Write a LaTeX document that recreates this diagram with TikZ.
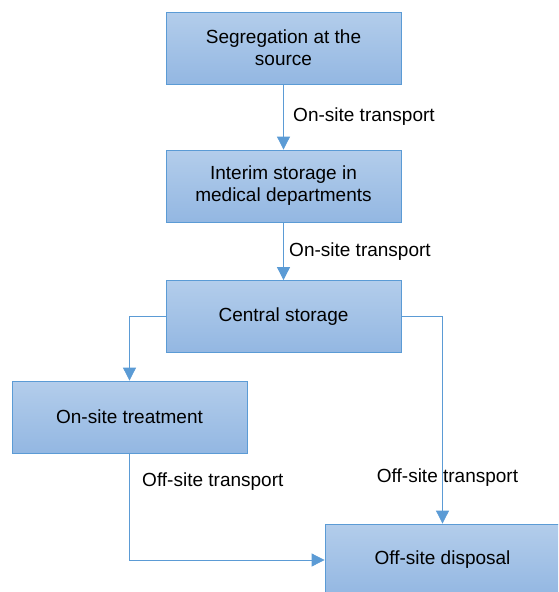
\documentclass[tikz,border=0pt]{standalone}
\usepackage{fontspec}
\setmainfont{Liberation Sans}
\usetikzlibrary{arrows.meta}
\definecolor{linkblue}{HTML}{5B9BD5}
\definecolor{boxtop}{HTML}{B3CDEB}
\definecolor{boxbot}{HTML}{93B7E2}
\begin{document}
\begin{tikzpicture}[x=1pt,y=-1pt,
	stage/.style={draw=linkblue,line width=0.8pt,top color=boxtop,bottom color=boxbot,
		minimum width=235pt,minimum height=72pt,align=center,font=\fontsize{19}{22}\selectfont},
	flow/.style={draw=linkblue,line width=0.8pt,-{Triangle[width=13pt,length=13pt]}},
	lbl/.style={font=\fontsize{19}{22}\selectfont}]
	\clip (0,0) rectangle (558,592);
	\useasboundingbox (0,0) rectangle (558,592);

	\node[stage] (seg) at (283.5,48) {Segregation at the\\source};
	\node[stage] (interim) at (283.5,186) {Interim storage in\\medical departments};
	\node[stage] (central) at (283.5,316.5) {Central storage};
	\node[stage] (treat) at (129.5,417) {On-site treatment};
	\node[stage] (disposal) at (442.5,560) {Off-site disposal};

	\draw[flow] (seg) -- node[lbl,right=6pt] {On-site transport} (interim);
	\draw[flow] (interim) -- node[lbl,right=2pt] {On-site transport} (central);
	\draw[flow] (central.west) -| (treat.north);
	\draw[flow] (central.east) -| node[lbl,pos=0.89,xshift=5pt] {Off-site transport} (disposal.north);
	\draw[flow] (treat.south) |- node[lbl,pos=0.13,right=9pt] {Off-site transport} (disposal.west);
\end{tikzpicture}
\end{document}
